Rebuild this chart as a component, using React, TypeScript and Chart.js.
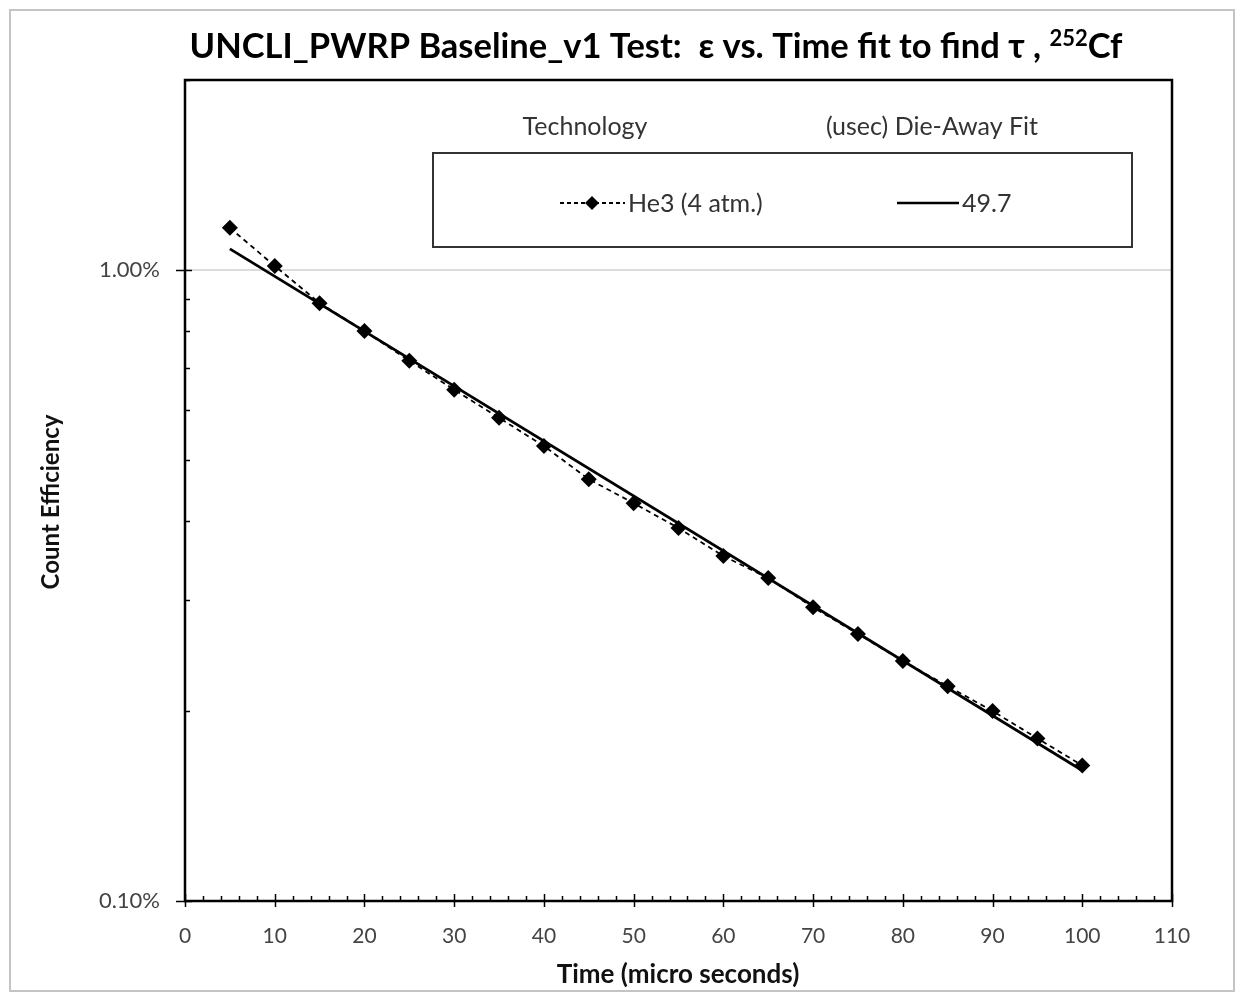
import React, { useEffect, useRef } from "react";
import { Chart, registerables } from "chart.js";

Chart.register(...registerables);

// ---- data ----
const TIMES = [5, 10, 15, 20, 25, 30, 35, 40, 45, 50, 55, 60, 65, 70, 75, 80, 85, 90, 95, 100];
const EFFICIENCY = [1.166, 1.015, 0.886, 0.8, 0.718, 0.646, 0.583, 0.526, 0.466, 0.427, 0.39, 0.352, 0.325, 0.292, 0.265, 0.24, 0.219, 0.2, 0.181, 0.164];
const FIT_TIMES = [5, 100];
const FIT_VALUES = [1.08, 0.161];
const SERIES_LABEL = "He3 (4 atm.)";
const FIT_LABEL = "49.7";
const LEGEND_HEADERS = ["Technology", "(usec) Die-Away Fit"];
const X_MIN = 0;
const X_MAX = 110;
const X_STEP = 10;
const X_MINOR_STEP = 2;
const Y_MIN = 0.1;
const Y_MAX = 2;
const Y_LABELED_TICKS = [0.1, 1];
const Y_MINOR_TICKS = [0.2, 0.3, 0.4, 0.5, 0.6, 0.7, 0.8, 0.9, 2];
const TITLE_MAIN = "UNCLI_PWRP Baseline_v1 Test:  \u03b5 vs. Time fit to find \u03c4 , ";
const TITLE_SUP = "252";
const TITLE_END = "Cf";
const X_TITLE = "Time (micro seconds)";
const Y_TITLE = "Count Efficiency";

const FONT = "Lato, 'Open Sans', sans-serif";

const decorPlugin = {
  id: "decor",
  beforeDraw(chart: any) {
    const ctx = chart.ctx;
    ctx.save();
    ctx.fillStyle = "#ffffff";
    ctx.fillRect(0, 0, chart.width, chart.height);
    ctx.strokeStyle = "#c4c4c4";
    ctx.lineWidth = 2;
    ctx.strokeRect(10, 10, 1224, 981);
    ctx.restore();
  },
  afterDraw(chart: any) {
    const ctx = chart.ctx;
    const { left, right, top, bottom } = chart.chartArea;
    const xs = chart.scales.x;
    const ys = chart.scales.y;
    ctx.save();
    // plot border
    ctx.strokeStyle = "#000";
    ctx.lineWidth = 2.5;
    ctx.strokeRect(left, top, right - left, bottom - top);
    // x ticks
    ctx.lineWidth = 1.5;
    for (let v = X_MIN; v <= X_MAX + 1e-9; v += X_MINOR_STEP) {
      const px = Math.round(xs.getPixelForValue(v)) + 0.5;
      const major = Math.abs(v / X_STEP - Math.round(v / X_STEP)) < 1e-9;
      ctx.beginPath();
      ctx.moveTo(px, major ? bottom + 6 : bottom);
      ctx.lineTo(px, bottom - (major ? 7 : 5));
      ctx.stroke();
    }
    // y ticks
    Y_LABELED_TICKS.forEach((v) => {
      const py = Math.round(ys.getPixelForValue(v)) + 0.5;
      ctx.beginPath();
      ctx.moveTo(left - 9, py);
      ctx.lineTo(left + 7, py);
      ctx.stroke();
    });
    Y_MINOR_TICKS.forEach((v) => {
      const py = Math.round(ys.getPixelForValue(v)) + 0.5;
      ctx.beginPath();
      ctx.moveTo(left, py);
      ctx.lineTo(left + 5, py);
      ctx.stroke();
    });

    // title
    ctx.fillStyle = "#000";
    ctx.textBaseline = "alphabetic";
    ctx.textAlign = "left";
    const mainFont = `bold 34.5px ${FONT}`;
    const supFont = `bold 22px ${FONT}`;
    ctx.font = mainFont;
    const w1 = ctx.measureText(TITLE_MAIN).width;
    const w3 = ctx.measureText(TITLE_END).width;
    ctx.font = supFont;
    const w2 = ctx.measureText(TITLE_SUP).width;
    const total = w1 + w2 + w3;
    let tx = 656 - total / 2;
    const ty = 58;
    ctx.font = mainFont;
    ctx.fillText(TITLE_MAIN, tx, ty);
    tx += w1;
    ctx.font = supFont;
    ctx.fillText(TITLE_SUP, tx, ty - 12);
    tx += w2;
    ctx.font = mainFont;
    ctx.fillText(TITLE_END, tx, ty);

    // axis titles
    ctx.font = `bold 26px ${FONT}`;
    ctx.textAlign = "center";
    ctx.textBaseline = "middle";
    ctx.fillStyle = "#111";
    ctx.fillText(X_TITLE, 678, 975);
    ctx.save();
    ctx.translate(51, 502);
    ctx.rotate(-Math.PI / 2);
    ctx.font = `bold 24px ${FONT}`;
    ctx.fillText(Y_TITLE, 0, 0);
    ctx.restore();

    // legend
    const ds0 = chart.data.datasets[0];
    const ds1 = chart.data.datasets[1];
    ctx.fillStyle = "#333";
    ctx.font = `25px ${FONT}`;
    ctx.textAlign = "center";
    ctx.textBaseline = "middle";
    ctx.fillText(LEGEND_HEADERS[0], 585, 127);
    ctx.fillText(LEGEND_HEADERS[1], 932, 127);
    ctx.strokeStyle = "#333";
    ctx.lineWidth = 2;
    ctx.strokeRect(433, 153, 699, 94);
    const ly = 203;
    // series sample
    ctx.strokeStyle = "#000";
    ctx.lineWidth = 1.8;
    ctx.setLineDash([4, 3]);
    ctx.beginPath();
    ctx.moveTo(560, ly);
    ctx.lineTo(625, ly);
    ctx.stroke();
    ctx.setLineDash([]);
    ctx.fillStyle = "#000";
    ctx.beginPath();
    ctx.moveTo(592, ly - 7);
    ctx.lineTo(599, ly);
    ctx.lineTo(592, ly + 7);
    ctx.lineTo(585, ly);
    ctx.closePath();
    ctx.fill();
    ctx.fillStyle = "#333";
    ctx.textAlign = "left";
    ctx.fillText(ds0.label, 628, ly + 1);
    // fit sample
    ctx.strokeStyle = "#000";
    ctx.lineWidth = 2.5;
    ctx.beginPath();
    ctx.moveTo(897, ly);
    ctx.lineTo(959, ly);
    ctx.stroke();
    ctx.fillText(ds1.label, 962, ly + 1);
    ctx.restore();
  },
};

export default function App() {
  const ref = useRef<HTMLCanvasElement>(null);
  useEffect(() => {
    if (!ref.current) return;
    const chart = new Chart(ref.current, {
      type: "scatter",
      data: {
        datasets: [
          {
            label: SERIES_LABEL,
            data: TIMES.map((t, i) => ({ x: t, y: EFFICIENCY[i] })),
            showLine: true,
            borderColor: "#000",
            borderWidth: 1.8,
            borderDash: [5, 4],
            pointStyle: "rectRot",
            pointRadius: 8,
            pointBackgroundColor: "#000",
            pointBorderColor: "#000",
            pointBorderWidth: 0,
          },
          {
            label: FIT_LABEL,
            data: FIT_TIMES.map((t, i) => ({ x: t, y: FIT_VALUES[i] })),
            showLine: true,
            borderColor: "#000",
            borderWidth: 2.8,
            pointRadius: 0,
          },
        ],
      },
      options: {
        animation: false,
        responsive: false,
        events: [],
        layout: { padding: { top: 80, right: 72, left: 0, bottom: 0 } },
        plugins: { legend: { display: false }, title: { display: false }, tooltip: { enabled: false } },
        scales: {
          x: {
            type: "linear",
            min: X_MIN,
            max: X_MAX,
            ticks: { stepSize: X_STEP, color: "#444", font: { family: FONT, size: 21 }, padding: 23, maxRotation: 0 },
            grid: { display: false, drawTicks: false },
            border: { display: false },
            afterFit: (s: any) => {
              s.height = 93;
            },
          },
          y: {
            type: "logarithmic",
            min: Y_MIN,
            max: Y_MAX,
            afterBuildTicks: (s: any) => {
              s.ticks = [...Y_LABELED_TICKS, ...Y_MINOR_TICKS].sort((a, b) => a - b).map((v) => ({ value: v }));
            },
            ticks: {
              autoSkip: false,
              color: "#444",
              font: { family: FONT, size: 22 },
              padding: 25,
              callback: (value: any) => {
                const v = Number(value);
                return Y_LABELED_TICKS.some((t) => Math.abs(t - v) < 1e-9) ? v.toFixed(2) + "%" : "";
              },
            },
            grid: {
              drawTicks: false,
              lineWidth: 2,
              color: (c: any) => (c.tick && Math.abs(c.tick.value - 1) < 1e-9 ? "#dcdcdc" : "rgba(0,0,0,0)"),
            },
            border: { display: false },
            afterFit: (s: any) => {
              s.width = 185;
            },
          },
        },
      },
      plugins: [decorPlugin],
    } as any);
    return () => chart.destroy();
  }, []);
  return (
    <div style={{ position: "absolute", left: 0, top: 0, width: 1244, height: 994 }}>
      <canvas ref={ref} width={1244} height={994} style={{ display: "block", width: 1244, height: 994 }} />
    </div>
  );
}
